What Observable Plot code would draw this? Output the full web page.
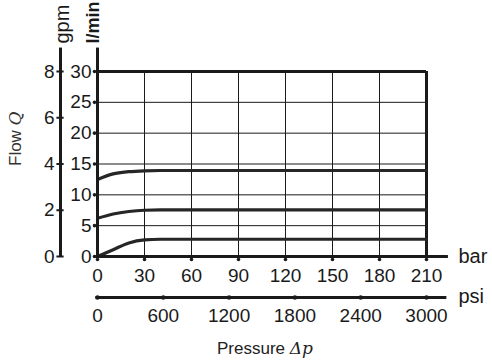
<!DOCTYPE html>
<html><head><meta charset="utf-8">
<script src="https://cdn.jsdelivr.net/npm/d3@7"></script>
<script src="https://cdn.jsdelivr.net/npm/@observablehq/plot@0.6"></script>
<style>body{margin:0;background:#fff}</style>
</head><body><div id="chart"></div>
<script>
// Tick values
const barTicks = [0, 30, 60, 90, 120, 150, 180, 210];
const psiTicks = [0, 600, 1200, 1800, 2400, 3000];
const lminTicks = [0, 5, 10, 15, 20, 25, 30];
const gpmTicks = [0, 2, 4, 6, 8];
// Flow curves: [pressure bar, flow l/min]
const curveLow  = [[0, 0], [10, 1.1], [20, 2.2], [30, 2.7], [40, 2.8], [210, 2.8]];
const curveMid  = [[0, 6.2], [10, 6.9], [20, 7.3], [30, 7.5], [40, 7.55], [210, 7.55]];
const curveHigh = [[0, 12.5], [10, 13.4], [20, 13.75], [30, 13.9], [40, 13.95], [210, 13.95]];

const psiToBar = p => p * 210 / 3000;
const gpmToLmin = g => g * 30 / 8;
const GPM_X = -23.6;   // position of gpm axis in bar units
const X_END = 224;     // extension of the horizontal axes
const Y_TOP = 33.8;    // extension of the vertical axes

const ink = "#1a1a1a";
const numFont = "'Liberation Sans', Arial, sans-serif";
const FS = 19;

const curves = [curveLow, curveMid, curveHigh].flatMap((c, i) => c.map(([x, y]) => ({x, y, s: i})));

const chart = Plot.plot({
  width: 492, height: 363,
  marginLeft: 97, marginRight: 66, marginTop: 71, marginBottom: 107,
  x: {domain: [0, 210], axis: null},
  y: {domain: [0, 30], axis: null},
  style: {fontFamily: numFont, background: "#fff", overflow: "visible"},
  marks: [
    // grid
    Plot.ruleX(barTicks.slice(1, -1), {y1: 0, y2: 30, stroke: ink, strokeWidth: 1}),
    Plot.ruleY(lminTicks.slice(1, -1), {x1: 0, x2: 210, stroke: ink, strokeWidth: 1}),
    // frame
    Plot.ruleY([30], {x1: 0, x2: 210, stroke: ink, strokeWidth: 3}),
    Plot.ruleX([210], {y1: 0, y2: 30, stroke: ink, strokeWidth: 3}),
    // curves
    Plot.line(curves, {x: "x", y: "y", z: "s", curve: "monotone-x", stroke: "#262626", strokeWidth: 3.2}),
    // l/min axis
    Plot.ruleX([0], {y1: 0, y2: Y_TOP, stroke: ink, strokeWidth: 3}),
    Plot.dot(lminTicks, {x: 0, y: d => d, dx: -3, r: 1.8, fill: ink}),
    Plot.text(lminTicks, {x: 0, y: d => d, text: d => String(d), dx: -6, textAnchor: "end", fontSize: FS, fill: ink}),
    // gpm axis
    Plot.ruleX([GPM_X], {y1: 0, y2: Y_TOP, stroke: ink, strokeWidth: 3}),
    Plot.ruleY(gpmTicks, {y: d => gpmToLmin(d), x1: GPM_X - 2.3, x2: GPM_X + 2.3, stroke: ink, strokeWidth: 2}),
    Plot.text(gpmTicks, {x: GPM_X, y: d => gpmToLmin(d), text: d => String(d), dx: -6, textAnchor: "end", fontSize: FS, fill: ink}),
    // bar axis
    Plot.ruleY([0], {x1: -1, x2: X_END, stroke: ink, strokeWidth: 3}),
    Plot.dot(barTicks, {x: d => d, y: 0, dy: 3, r: 1.8, fill: ink}),
    Plot.text(barTicks, {x: d => d, y: 0, text: d => String(d), dy: 19, fontSize: FS, fill: ink}),
    Plot.text(["bar"], {x: X_END, y: 0, text: d => d, dx: 10, textAnchor: "start", fontSize: FS + 1, fill: ink}),
    // psi axis
    Plot.ruleY([0], {x1: -1, x2: X_END - 1, dy: 41, stroke: ink, strokeWidth: 3}),
    Plot.dot(psiTicks, {x: d => psiToBar(d), y: 0, dy: 41, r: 2.2, fill: ink}),
    Plot.text(psiTicks, {x: d => psiToBar(d), y: 0, text: d => String(d), dy: 59, fontSize: FS, fill: ink}),
    Plot.text(["psi"], {x: X_END, y: 0, text: d => d, dx: 10, dy: 40, textAnchor: "start", fontSize: FS + 1, fill: ink}),
    // unit labels
    Plot.text(["gpm"], {x: GPM_X, y: 30, text: d => d, dx: 2, dy: -28, rotate: -90, textAnchor: "start", fontSize: 20, fill: ink}),
    Plot.text(["l/min"], {x: 0, y: 30, text: d => d, dx: -4, dy: -28, rotate: -90, textAnchor: "start", fontSize: 18, fontWeight: "bold", fill: ink}),
  ]
});

// axis titles with italic symbols
const svg = d3.select(chart);
const t1 = svg.append("text").attr("transform", "translate(21,166) rotate(-90)")
  .attr("text-anchor", "start")
  .attr("font-family", "'Liberation Sans', Arial, sans-serif").attr("font-size", 17).attr("fill", "#333");
t1.append("tspan").text("Flow ");
t1.append("tspan").attr("font-family", "'DejaVu Serif', 'Liberation Serif', serif").attr("font-style", "italic").text("Q");
const t2 = svg.append("text").attr("x", 217).attr("y", 354)
  .attr("text-anchor", "start")
  .attr("font-family", "'Liberation Sans', Arial, sans-serif").attr("font-size", 17).attr("fill", "#222");
t2.append("tspan").text("Pressure ");
t2.append("tspan").attr("font-family", "'DejaVu Serif', 'Liberation Serif', serif").attr("font-style", "italic").text("Δp");

document.getElementById("chart").append(chart);
</script>
</body></html>
